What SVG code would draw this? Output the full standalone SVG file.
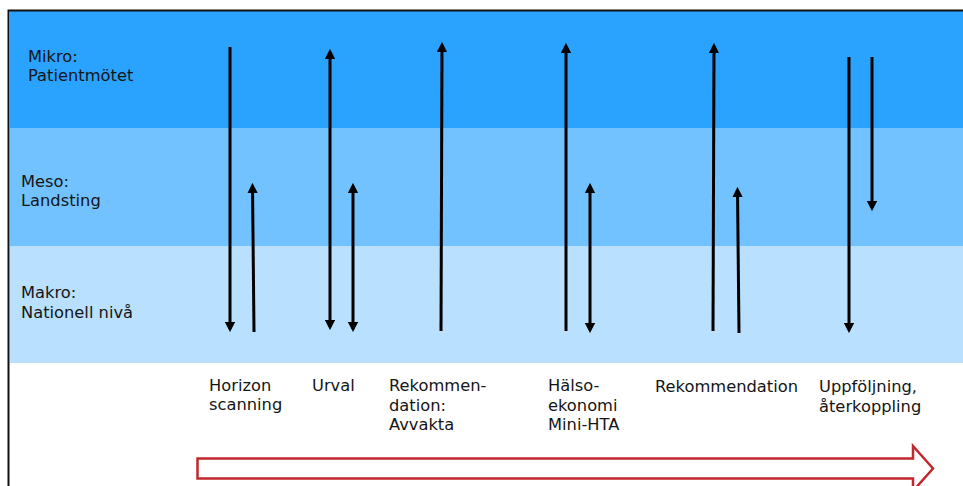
<svg xmlns="http://www.w3.org/2000/svg" width="963" height="486" viewBox="0 0 963 486">
  <style>
    .lbl { font-family: "DejaVu Sans", Verdana, sans-serif; font-size: 16.3px; fill: #151515; }
    .conn line { stroke: #000; stroke-width: 3; }
    .dn { marker-end: url(#head); }
    .up { marker-end: url(#head); }
    .both { marker-start: url(#head); marker-end: url(#head); }
  </style>
  <defs>
    <marker id="head" viewBox="0 0 10 10" refX="7" refY="5" markerUnits="userSpaceOnUse" markerWidth="10.5" markerHeight="10.5" orient="auto-start-reverse">
      <path d="M0,0 L10,5 L0,10 Z" fill="#000"/>
    </marker>
  </defs>

  <rect width="963" height="486" fill="#fff"/>

  <!-- level bands -->
  <g id="bands">
    <rect x="10" y="11" width="953" height="117" fill="#29a3ff"/>
    <rect x="10" y="128" width="953" height="118" fill="#72c2ff"/>
    <rect x="10" y="246" width="953" height="117" fill="#b9e0ff"/>
  </g>

  <!-- frame -->
  <path d="M8.5,486 V10.5 H963" fill="none" stroke="#111" stroke-width="2"/>

  <!-- level labels -->
  <g id="mikro"><text class="lbl" x="28" y="62">Mikro:</text><text class="lbl" x="28" y="81">Patientmötet</text></g>
  <g id="meso"><text class="lbl" x="21" y="187">Meso:</text><text class="lbl" x="21" y="206">Landsting</text></g>
  <g id="makro"><text class="lbl" x="21" y="298">Makro:</text><text class="lbl" x="21" y="318">Nationell nivå</text></g>

  <!-- process steps -->
  <g id="horizon"><text class="lbl" x="209" y="391">Horizon</text><text class="lbl" x="209" y="410">scanning</text></g>
  <g id="urval"><text class="lbl" x="312" y="391">Urval</text></g>
  <g id="avvakta"><text class="lbl" x="389" y="391">Rekommen-</text><text class="lbl" x="389" y="411">dation:</text><text class="lbl" x="389" y="430">Avvakta</text></g>
  <g id="halsoekonomi"><text class="lbl" x="548" y="391">Hälso-</text><text class="lbl" x="548" y="411">ekonomi</text><text class="lbl" x="548" y="430">Mini-HTA</text></g>
  <g id="rekommendation"><text class="lbl" x="655" y="392">Rekommendation</text></g>
  <g id="uppfoljning"><text class="lbl" x="819" y="392">Uppföljning,</text><text class="lbl" x="819" y="412">återkoppling</text></g>

  <!-- timeline arrow -->
  <g id="timeline">
    <path d="M197.5,458.5 H913 V446 L933,468.5 L913,491 V478.5 H197.5 Z" fill="#fff" stroke="#c1272d" stroke-width="2.5" stroke-linejoin="miter"/>
  </g>

  <!-- connectors between levels -->
  <g id="connectors" class="conn">
    <line class="dn" x1="230" y1="47" x2="230" y2="329"/>
    <line class="up" x1="254" y1="332" x2="252.5" y2="186"/>
    <line class="both" x1="330" y1="52" x2="330" y2="327"/>
    <line class="both" x1="353" y1="186" x2="353" y2="329"/>
    <line class="up" x1="441" y1="331" x2="442" y2="45"/>
    <line class="up" x1="566" y1="331" x2="566" y2="46"/>
    <line class="both" x1="590" y1="186" x2="590" y2="330"/>
    <line class="up" x1="713" y1="331" x2="714" y2="46"/>
    <line class="up" x1="739" y1="333" x2="737.5" y2="190"/>
    <line class="dn" x1="849" y1="57" x2="849" y2="330"/>
    <line class="dn" x1="872" y1="57" x2="872" y2="208"/>
  </g>
</svg>
